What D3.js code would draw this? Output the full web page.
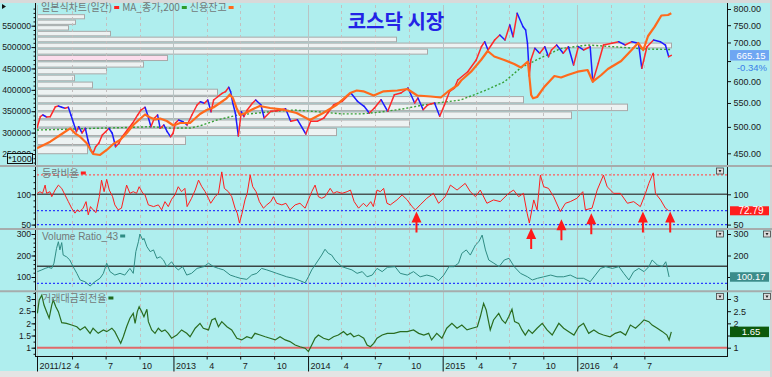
<!DOCTYPE html>
<html>
<head>
<meta charset="utf-8">
<script src="https://cdn.jsdelivr.net/npm/d3@7"></script>
<style>
  body { margin: 0; background: #afeeee; }
  svg { display: block; font-family: "Liberation Sans", Arial, sans-serif; }
  .kr { font-family: "Noto Sans CJK KR", sans-serif; }
</style>
</head>
<body>
<div id="chart"></div>
<script>
// ---- data ----
// KOSDAQ index (daily close, sampled)
var priceData = [
  ["2011-12-28",497.8],["2012-01-06",520.7],["2012-01-13",524.3],["2012-01-23",520.1],["2012-02-02",520.7],
  ["2012-02-16",541.9],["2012-02-24",543.4],["2012-03-04",540.6],["2012-03-13",538.5],["2012-03-22",540.6],
  ["2012-03-29",524.3],["2012-04-05",507.8],["2012-04-13",490.5],["2012-04-19",500.4],["2012-04-28",488.0],
  ["2012-05-07",497.2],["2012-05-14",474.5],["2012-05-21",456.0],["2012-05-28",450.0],["2012-06-04",462.0],
  ["2012-06-13",468.9],["2012-06-22",484.1],["2012-07-01",490.5],["2012-07-10",497.2],["2012-07-19",487.4],
  ["2012-07-28",462.0],["2012-08-06",468.3],["2012-08-15",480.8],["2012-08-29",493.8],["2012-09-12",507.2],
  ["2012-09-26",524.3],["2012-10-05",534.8],["2012-10-16",540.6],["2012-10-23",524.3],["2012-11-01",500.4],
  ["2012-11-10",517.4],["2012-11-19",524.3],["2012-11-26",497.2],["2012-12-06",503.8],["2012-12-15",490.5],
  ["2012-12-24",480.8],["2012-12-31",487.4],["2013-01-06",507.2],["2013-01-15",513.9],["2013-01-27",510.4],
  ["2013-02-07",503.8],["2013-02-20",524.3],["2013-03-06",545.6],["2013-03-15",552.8],["2013-03-26",549.3],
  ["2013-04-04",556.6],["2013-04-13",531.2],["2013-04-20",556.6],["2013-05-01",563.9],["2013-05-13",571.6],
  ["2013-05-22",575.3],["2013-05-31",585.5],["2013-06-05",575.3],["2013-06-11",549.3],["2013-06-18",527.8],
  ["2013-06-26",482.2],["2013-07-04",531.2],["2013-07-11",520.7],["2013-07-20",534.8],["2013-08-03",549.3],
  ["2013-08-12",556.6],["2013-08-26",546.2],["2013-09-04",518.0],["2013-09-22",532.1],["2013-10-10",533.3],
  ["2013-11-01",537.6],["2013-11-15",511.2],["2013-12-03",514.5],["2013-12-26",486.0],["2014-01-08",511.2],
  ["2014-01-26",511.2],["2014-02-13",518.0],["2014-03-12",546.2],["2014-04-04",553.7],["2014-04-27",572.3],
  ["2014-05-15",553.7],["2014-06-02",542.8],["2014-06-16",528.5],["2014-06-30",539.1],["2014-07-18",557.2],
  ["2014-08-05",532.1],["2014-08-23",568.5],["2014-09-10",572.3],["2014-09-29",583.8],["2014-10-17",550.0],
  ["2014-10-26",561.0],["2014-11-09",535.5],["2014-11-22",546.2],["2014-12-10",550.0],["2014-12-24",521.6],
  ["2015-01-06",546.2],["2015-01-20",576.2],["2015-02-02",583.8],["2015-02-11",602.8],["2015-03-10",623.0],
  ["2015-04-02",652.8],["2015-04-16",688.3],["2015-04-25",702.2],["2015-05-04",679.4],["2015-05-22",707.0],
  ["2015-06-05",721.2],["2015-06-19",707.0],["2015-07-02",750.6],["2015-07-11",716.3],["2015-07-22",786.4],
  ["2015-08-07",745.5],["2015-08-14",735.8],["2015-08-19",697.8],["2015-08-24",612.5],["2015-08-28",652.8],
  ["2015-09-08",684.0],["2015-09-21",670.5],["2015-10-05",688.3],["2015-10-15",661.4],["2015-10-23",679.4],
  ["2015-11-06",693.0],["2015-11-24",670.5],["2015-12-08",688.3],["2015-12-22",639.9],["2016-01-04",688.3],
  ["2016-01-18",679.4],["2016-02-05",688.3],["2016-02-12",598.7],["2016-02-27",644.2],["2016-03-12",693.0],
  ["2016-04-04",697.8],["2016-04-22",702.2],["2016-05-10",693.0],["2016-05-28",702.2],["2016-06-15",697.8],
  ["2016-06-24",631.6],["2016-07-08",688.3],["2016-07-26",707.0],["2016-08-13",702.2],["2016-08-27",693.0],
  ["2016-09-05",661.4],["2016-09-12",665.15]
];

// MA_종가,200
var maData = [
  ["2011-12-28",493.8],["2012-03-27",495.5],["2012-06-17",497.5],["2012-09-05",498.9],["2012-10-31",500.4],
  ["2012-12-23",497.5],["2013-02-16",497.8],["2013-03-15",502.2],["2013-04-29",513.9],["2013-06-25",524.3],
  ["2013-08-19",528.5],["2013-10-07",532.5],["2013-11-25",534.8],["2014-01-18",531.7],["2014-04-02",526.6],
  ["2014-05-27",526.6],["2014-07-20",530.8],["2014-09-10",536.5],["2014-11-10",545.6],["2014-12-27",551.1],
  ["2015-02-19",556.6],["2015-04-24",577.3],["2015-06-17",598.2],["2015-08-01",632.9],["2015-09-23",657.9],
  ["2015-11-16",682.9],["2016-01-29",693.0],["2016-04-10",688.3],["2016-06-04",684.0],["2016-07-12",681.8],
  ["2016-09-12",680.7]
];

// 신용잔고 (x1000)
var creditData = [
  ["2011-12-28",263400],["2012-02-02",278800],["2012-02-29",294500],["2012-03-27",310100],["2012-04-09",298400],
  ["2012-04-23",290500],["2012-05-11",275100],["2012-05-28",250000],["2012-06-16",247700],["2012-07-04",259400],
  ["2012-07-22",273400],["2012-08-09",282800],["2012-08-27",298400],["2012-09-14",317800],["2012-10-02",331900],
  ["2012-10-16",342400],["2012-10-30",335400],["2012-11-12",330700],["2012-11-26",333000],["2012-12-14",327200],
  ["2013-01-01",316700],["2013-01-19",322500],["2013-02-15",322500],["2013-03-14",343600],["2013-04-01",352900],
  ["2013-04-19",358800],["2013-05-07",369300],["2013-05-25",380300],["2013-06-03",389100],["2013-06-11",381000],
  ["2013-06-21",357600],["2013-06-30",341200],["2013-07-14",345200],["2013-08-05",355200],["2013-08-23",362300],
  ["2013-09-20",357600],["2013-10-26",353600],["2013-12-01",345900],["2014-01-06",329500],["2014-02-11",345900],
  ["2014-03-20",365300],["2014-04-25",392700],["2014-05-13",398500],["2014-05-31",396600],["2014-06-28",386800],
  ["2014-07-25",396600],["2014-08-31",398500],["2014-09-27",402000],["2014-10-24",386800],["2014-11-30",384500],
  ["2014-12-27",382100],["2015-01-14",395000],["2015-02-11",411400],["2015-02-20",421900],["2015-03-19",442500],
  ["2015-04-15",469800],["2015-05-03",490800],["2015-05-21",478000],["2015-06-17",469800],["2015-07-14",460500],
  ["2015-08-01",452300],["2015-08-20",465800],["2015-08-24",432400],["2015-08-29",388000],["2015-09-03",380300],
  ["2015-09-14",383300],["2015-10-04",407400],["2015-10-31",432400],["2015-11-18",428900],["2015-12-06",434700],
  ["2016-01-02",442500],["2016-01-29",446400],["2016-02-12",419100],["2016-03-06",434700],["2016-03-24",448800],
  ["2016-04-29",467500],["2016-05-26",492000],["2016-06-14",509600],["2016-06-28",493200],["2016-07-11",525900],
  ["2016-07-29",547700],["2016-08-16",573800],["2016-09-03",575000],["2016-09-12",579000]
];

// 매물대: traded volume per price band, lowest band first
var profileRange = [448, 784];
var volumeProfile = [50, 148, 299, 372, 534, 590, 486, 180, 55, 37, 69, 106, 130, 390, 634, 359, 73, 31, 38, 47];

// 등락비율
var adrData = [
  ["2011-12-29",101.6],["2012-01-05",104.3],["2012-01-12",101.6],["2012-01-19",115.2],["2012-01-23",101.6],
  ["2012-02-01",104.3],["2012-02-06",96.1],["2012-02-15",107.0],["2012-02-24",115.2],["2012-03-04",109.8],
  ["2012-03-13",98.9],["2012-03-22",87.9],["2012-03-31",77.1],["2012-04-09",68.9],["2012-04-15",74.3],
  ["2012-04-22",71.5],["2012-05-01",77.1],["2012-05-09",87.9],["2012-05-15",66.1],["2012-05-21",79.7],
  ["2012-05-28",74.3],["2012-06-05",69.8],["2012-06-14",96.1],["2012-06-20",123.4],["2012-06-27",104.3],
  ["2012-07-04",124.6],["2012-07-11",107.0],["2012-07-20",96.1],["2012-07-26",82.5],["2012-08-04",74.3],
  ["2012-08-13",77.1],["2012-08-22",101.6],["2012-08-27",115.2],["2012-09-05",101.6],["2012-09-14",104.3],
  ["2012-09-23",101.6],["2012-09-30",112.5],["2012-10-10",101.6],["2012-10-16",98.9],["2012-10-25",82.5],
  ["2012-11-08",79.7],["2012-11-21",82.5],["2012-11-30",74.3],["2012-12-09",87.9],["2012-12-18",79.7],
  ["2012-12-27",91.8],["2013-01-05",98.9],["2013-01-14",112.5],["2013-01-23",104.3],["2013-02-01",109.8],
  ["2013-02-07",79.7],["2013-02-19",93.4],["2013-03-01",107.0],["2013-03-10",123.4],["2013-03-19",112.5],
  ["2013-03-28",104.3],["2013-04-06",93.4],["2013-04-12",85.2],["2013-04-24",96.1],["2013-05-03",101.6],
  ["2013-05-12",137.0],["2013-05-19",109.8],["2013-05-30",104.3],["2013-06-08",96.1],["2013-06-17",77.1],
  ["2013-06-23",68.9],["2013-06-29",52.5],["2013-07-05",66.1],["2013-07-14",90.7],["2013-07-20",101.6],
  ["2013-07-28",131.6],["2013-08-04",112.5],["2013-08-13",104.3],["2013-08-22",87.9],["2013-09-02",77.1],
  ["2013-09-11",82.5],["2013-09-22",87.9],["2013-09-29",96.1],["2013-10-08",85.2],["2013-10-22",82.5],
  ["2013-11-02",85.2],["2013-11-13",74.3],["2013-11-27",82.5],["2013-12-10",85.2],["2013-12-24",77.1],
  ["2014-01-02",90.7],["2014-01-11",104.3],["2014-01-20",115.2],["2014-01-29",96.1],["2014-02-07",93.4],
  ["2014-02-16",96.1],["2014-03-02",109.8],["2014-03-11",101.6],["2014-03-20",104.3],["2014-04-03",101.6],
  ["2014-04-17",104.3],["2014-04-26",107.0],["2014-05-06",87.9],["2014-05-18",77.1],["2014-05-31",85.2],
  ["2014-06-09",79.7],["2014-06-20",87.9],["2014-06-27",79.7],["2014-07-07",107.0],["2014-07-16",104.3],
  ["2014-07-25",109.8],["2014-08-03",85.2],["2014-08-12",82.5],["2014-08-30",90.7],["2014-09-13",98.9],
  ["2014-09-27",90.7],["2014-10-10",79.7],["2014-10-19",74.3],["2014-11-01",82.5],["2014-11-19",93.4],
  ["2014-12-07",101.6],["2014-12-21",85.2],["2015-01-08",96.1],["2015-01-22",115.2],["2015-02-09",107.0],
  ["2015-03-03",118.0],["2015-03-17",104.3],["2015-03-31",96.1],["2015-04-13",107.0],["2015-05-01",85.2],
  ["2015-05-19",90.7],["2015-06-06",87.9],["2015-06-29",101.6],["2015-07-12",107.0],["2015-07-26",96.1],
  ["2015-08-08",101.6],["2015-08-18",68.9],["2015-08-24",52.5],["2015-09-05",90.7],["2015-09-14",74.3],
  ["2015-09-23",131.6],["2015-10-02",112.5],["2015-10-15",109.8],["2015-10-29",96.1],["2015-11-16",71.5],
  ["2015-11-30",85.2],["2015-12-13",87.9],["2015-12-31",93.4],["2016-01-16",104.3],["2016-01-23",74.3],
  ["2016-02-10",77.1],["2016-02-24",107.0],["2016-03-12",131.6],["2016-03-22",112.5],["2016-04-09",101.6],
  ["2016-04-27",101.6],["2016-05-16",85.2],["2016-06-02",87.9],["2016-06-20",79.7],["2016-07-04",101.6],
  ["2016-07-13",118.0],["2016-07-25",135.4],["2016-07-31",101.6],["2016-08-14",90.7],["2016-08-27",77.1],
  ["2016-09-05",72.79]
];
var adrLevels = {upper: 132, lower: [73, 50]};
var adrArrows = [["2014-10-22",71.5],["2015-08-29",44.3],["2015-11-19",59],["2016-02-08",68.9],["2016-06-27",71.5],["2016-09-09",71.5]];

// Volume Ratio_43
var vrData = [
  ["2011-12-29",125],["2012-01-10",133],["2012-01-19",140],["2012-01-28",145],["2012-02-06",140],["2012-02-12",164],
  ["2012-02-19",233],["2012-02-24",264],["2012-02-28",226],["2012-03-04",260],["2012-03-08",202],["2012-03-17",194],
  ["2012-03-26",179],["2012-04-04",148],["2012-04-14",117],["2012-04-23",86],["2012-05-06",78],["2012-05-20",58],
  ["2012-06-02",78],["2012-06-16",94],["2012-06-25",117],["2012-07-04",164],["2012-07-13",125],["2012-07-26",109],
  ["2012-08-09",117],["2012-08-22",109],["2012-09-05",140],["2012-09-14",117],["2012-09-21",218],["2012-09-28",264],
  ["2012-10-02",300],["2012-10-10",272],["2012-10-13",280],["2012-10-21",241],["2012-10-30",218],["2012-11-08",226],
  ["2012-11-17",187],["2012-11-26",194],["2012-12-05",179],["2012-12-14",148],["2012-12-27",171],["2013-01-05",148],
  ["2013-01-14",133],["2013-01-26",148],["2013-02-06",109],["2013-02-19",117],["2013-03-06",140],["2013-03-24",148],
  ["2013-04-06",164],["2013-04-20",148],["2013-05-03",140],["2013-05-17",133],["2013-06-04",109],["2013-06-18",101],
  ["2013-07-01",94],["2013-07-19",89],["2013-08-01",109],["2013-08-15",117],["2013-08-28",140],["2013-09-11",133],
  ["2013-09-25",125],["2013-10-08",117],["2013-10-22",109],["2013-11-04",101],["2013-11-22",94],["2013-12-10",83],
  ["2013-12-24",73],["2014-01-02",101],["2014-01-11",133],["2014-01-20",156],["2014-01-29",179],["2014-02-07",202],
  ["2014-02-16",229],["2014-02-25",210],["2014-03-06",202],["2014-03-15",179],["2014-03-24",164],["2014-04-03",148],
  ["2014-04-17",140],["2014-04-30",133],["2014-05-14",117],["2014-05-28",125],["2014-06-10",101],["2014-06-24",109],
  ["2014-07-07",140],["2014-07-21",125],["2014-08-04",145],["2014-08-25",148],["2014-09-08",117],["2014-09-27",109],
  ["2014-10-14",125],["2014-11-01",101],["2014-11-19",109],["2014-12-07",101],["2014-12-21",83],["2015-01-04",109],
  ["2015-01-18",148],["2015-01-31",148],["2015-02-13",164],["2015-02-22",210],["2015-03-06",226],["2015-03-17",202],
  ["2015-03-31",249],["2015-04-09",264],["2015-04-18",295],["2015-04-27",226],["2015-05-06",179],["2015-05-20",164],
  ["2015-06-03",148],["2015-06-17",179],["2015-06-30",187],["2015-07-14",148],["2015-07-31",117],["2015-08-19",101],
  ["2015-09-01",86],["2015-09-15",94],["2015-10-02",101],["2015-10-21",109],["2015-11-07",101],["2015-11-25",101],
  ["2015-12-13",109],["2015-12-31",94],["2016-01-18",94],["2016-02-05",78],["2016-02-19",109],["2016-03-04",140],
  ["2016-03-18",148],["2016-04-05",140],["2016-04-23",148],["2016-05-06",117],["2016-05-20",86],["2016-06-02",125],
  ["2016-06-16",140],["2016-06-30",125],["2016-07-13",148],["2016-07-22",179],["2016-08-05",156],["2016-08-19",148],
  ["2016-08-28",171],["2016-09-06",100.17]
];
var vrLevels = {mid: 150, low: 70};

// 거래대금회전율
var turnData = [
  ["2011-12-29",2.41],["2012-01-03",2.96],["2012-01-10",3.16],["2012-01-16",2.75],["2012-01-23",2.48],["2012-01-30",2.21],
  ["2012-02-06",2.75],["2012-02-10",2.96],["2012-02-17",2.68],["2012-02-24",2.48],["2012-03-04",2.03],["2012-03-17",2.00],
  ["2012-03-31",1.93],["2012-04-14",1.86],["2012-04-23",1.73],["2012-05-06",1.86],["2012-05-20",1.59],["2012-05-28",1.80],
  ["2012-06-11",1.59],["2012-06-25",1.73],["2012-07-04",1.66],["2012-07-18",1.80],["2012-07-26",1.66],["2012-08-04",1.39],
  ["2012-08-11",1.18],["2012-08-18",1.45],["2012-08-27",1.86],["2012-09-05",2.21],["2012-09-14",2.41],["2012-09-19",2.00],
  ["2012-09-25",2.48],["2012-09-30",2.68],["2012-10-07",2.48],["2012-10-13",2.27],["2012-10-21",2.58],["2012-10-25",2.07],
  ["2012-11-03",1.73],["2012-11-12",1.59],["2012-11-21",1.80],["2012-11-30",1.66],["2012-12-09",1.73],["2012-12-18",1.59],
  ["2012-12-27",1.39],["2013-01-10",1.52],["2013-01-23",1.73],["2013-02-06",1.59],["2013-02-15",1.45],["2013-03-01",1.80],
  ["2013-03-14",2.00],["2013-03-23",1.80],["2013-04-06",1.73],["2013-04-15",2.14],["2013-04-24",2.21],["2013-05-03",1.86],
  ["2013-05-12",2.07],["2013-05-26",1.86],["2013-06-08",1.73],["2013-06-22",1.39],["2013-07-05",1.32],["2013-07-19",1.45],
  ["2013-08-01",1.39],["2013-08-10",1.59],["2013-08-24",1.52],["2013-09-07",1.45],["2013-09-20",1.39],["2013-10-04",1.32],
  ["2013-10-17",1.45],["2013-10-31",1.32],["2013-11-13",1.25],["2013-11-27",1.11],["2013-12-10",1.04],["2013-12-24",0.98],
  ["2014-01-02",0.84],["2014-01-11",1.11],["2014-01-20",1.39],["2014-01-29",1.52],["2014-02-12",1.39],["2014-02-26",1.32],
  ["2014-03-11",1.45],["2014-03-24",1.52],["2014-04-07",1.66],["2014-04-17",1.52],["2014-04-26",1.59],["2014-05-05",1.45],
  ["2014-05-18",1.52],["2014-06-01",1.39],["2014-06-10",1.11],["2014-06-19",1.04],["2014-06-28",1.18],["2014-07-07",1.39],
  ["2014-07-21",1.52],["2014-08-04",1.59],["2014-08-22",1.59],["2014-09-08",1.66],["2014-09-27",1.66],["2014-10-14",1.73],
  ["2014-10-28",1.59],["2014-11-11",1.52],["2014-11-24",1.59],["2014-12-02",1.32],["2014-12-16",1.59],["2014-12-30",1.39],
  ["2015-01-12",1.80],["2015-01-26",2.00],["2015-02-09",1.80],["2015-02-22",1.93],["2015-03-08",1.73],["2015-03-22",1.80],
  ["2015-04-05",1.86],["2015-04-13",2.27],["2015-04-22",2.82],["2015-04-29",2.55],["2015-05-10",1.73],["2015-05-19",2.14],
  ["2015-06-02",2.41],["2015-06-11",2.14],["2015-06-20",2.00],["2015-06-29",2.27],["2015-07-08",2.58],["2015-07-15",2.07],
  ["2015-07-26",2.00],["2015-08-04",1.73],["2015-08-13",1.52],["2015-08-22",1.73],["2015-09-01",1.59],["2015-09-14",1.80],
  ["2015-09-28",2.00],["2015-10-11",1.73],["2015-10-25",1.52],["2015-11-12",2.00],["2015-11-25",1.80],["2015-12-09",1.66],
  ["2015-12-23",1.52],["2016-01-05",1.86],["2016-01-18",2.00],["2016-02-01",1.59],["2016-02-15",1.73],["2016-02-28",1.59],
  ["2016-03-12",1.52],["2016-03-30",1.45],["2016-04-13",1.59],["2016-04-27",1.66],["2016-05-11",1.52],["2016-05-24",1.93],
  ["2016-06-07",1.80],["2016-06-21",2.00],["2016-06-30",2.14],["2016-07-13",2.07],["2016-07-22",1.93],["2016-08-05",1.80],
  ["2016-08-19",1.66],["2016-08-31",1.52],["2016-09-06",1.32],["2016-09-12",1.65]
];
var turnLevel = 1;

var lastPrice = 665.15, lastChange = "-0.34%";

// ---- layout ----
var width = 772, height = 377;
var left = 37, right = 727;
var bg = "#afeeee";

var panels = {
  main: {top: 5, bottom: 165},
  adr:  {top: 167, bottom: 228},
  vol:  {top: 230, bottom: 290},
  turn: {top: 292, bottom: 356}
};

var parseDate = d3.timeParse("%Y-%m-%d");
function toPts(arr) { return arr.map(function(d) { return {t: parseDate(d[0]), v: d[1]}; }); }

var svg = d3.select("#chart").append("svg")
    .attr("width", width)
    .attr("height", height);

svg.append("rect").attr("width", width).attr("height", height).attr("fill", bg);
svg.append("rect").attr("width", width).attr("height", 3).attr("fill", "#d9d9d9");
svg.append("rect").attr("y", 371).attr("width", width).attr("height", 6).attr("fill", "#e4e4e4");
svg.append("rect").attr("x", 770).attr("width", 2).attr("height", height).attr("fill", "#d4d4d4");

var defs = svg.append("defs");
Object.keys(panels).forEach(function(k) {
  var p = panels[k];
  defs.append("clipPath").attr("id", "clip-" + k)
    .append("rect").attr("x", left).attr("y", p.top).attr("width", right - left).attr("height", p.bottom - p.top);
});

// scales
var x = d3.scaleTime()
    .domain([parseDate("2011-12-28"), parseDate("2017-02-10")])
    .range([left, right]);
var yPrice = d3.scaleLog().domain([450, 800]).range([153.3, 9]);
var yCredit = d3.scaleLinear().domain([250000, 550000]).range([154, 25.7]);
var yAdr = d3.scaleLinear().domain([50, 100]).range([224.6, 194.3]);
var yVol = d3.scaleLinear().domain([100, 300]).range([277, 234]);
var yTurn = d3.scaleLinear().domain([1, 3]).range([347.7, 299]);

// ---- volume profile bars (매물대) ----
var binStep = (profileRange[1] - profileRange[0]) / volumeProfile.length;
var xVol = d3.scaleLinear().domain([0, d3.max(volumeProfile)]).range([0, 634]);
svg.append("g").attr("clip-path", "url(#clip-main)")
  .selectAll("rect").data(volumeProfile).join("rect")
    .attr("x", left + 0.5)
    .attr("y", function(d, i) { return yPrice(profileRange[0] + (i + 1) * binStep) + 0.6; })
    .attr("height", function(d, i) {
      return yPrice(profileRange[0] + i * binStep) - yPrice(profileRange[0] + (i + 1) * binStep) - 1.3;
    })
    .attr("width", function(d) { return xVol(d); })
    .attr("fill", function(d, i) {
      var lo = profileRange[0] + i * binStep;
      return (lastPrice >= lo && lastPrice < lo + binStep) ? "#fcdcec" : "#edf2f2";
    })
    .attr("stroke", "#a8a8a8")
    .attr("stroke-width", 1);

// ---- vertical grid ----
var gridDates = d3.timeMonth.every(3).range(parseDate("2012-04-01"), parseDate("2016-08-01"));
Object.keys(panels).forEach(function(k) {
  var p = panels[k];
  svg.append("g").selectAll("line").data(gridDates).join("line")
    .attr("x1", function(d) { return Math.round(x(d)) + 0.5; })
    .attr("x2", function(d) { return Math.round(x(d)) + 0.5; })
    .attr("y1", p.top).attr("y2", p.bottom)
    .attr("stroke", function(d) { return d.getMonth() === 0 ? "#b9c4c4" : "#c4c0c0"; })
    .attr("stroke-dasharray", function(d) { return d.getMonth() === 0 ? null : "3,3"; });
  svg.append("line").attr("x1", left + 0.5).attr("x2", left + 0.5)
    .attr("y1", p.top).attr("y2", p.bottom).attr("stroke", "#b9c4c4");
});

// ---- reference lines in sub panels ----
function hline(y, color, w, dash) {
  svg.append("line").attr("x1", left).attr("x2", right).attr("y1", y).attr("y2", y)
    .attr("stroke", color).attr("stroke-width", w).attr("stroke-dasharray", dash || null);
}
hline(yAdr(adrLevels.upper), "#ff5a5a", 1.3, "2,2");
hline(yAdr(100), "#4c5656", 1.6);
adrLevels.lower.forEach(function(v) { hline(yAdr(v), "#2a3cff", 1.3, "2,2"); });
hline(yVol(vrLevels.mid), "#3c4444", 1.3);
hline(yVol(vrLevels.low), "#2a3cff", 1.3, "2,2");
hline(yTurn(turnLevel), "#e06a6a", 2);

// ---- main panel series ----
var ma = toPts(maData);
svg.append("path").datum(ma)
  .attr("clip-path", "url(#clip-main)")
  .attr("fill", "none").attr("stroke", "#36a036").attr("stroke-width", 1.4)
  .attr("stroke-dasharray", "2,2")
  .attr("d", d3.line().x(function(d) { return x(d.t); }).y(function(d) { return yPrice(d.v); }));

var price = toPts(priceData);
svg.append("g").attr("clip-path", "url(#clip-main)")
  .selectAll("line").data(d3.pairs(price)).join("line")
    .attr("x1", function(d) { return x(d[0].t); })
    .attr("y1", function(d) { return yPrice(d[0].v); })
    .attr("x2", function(d) { return x(d[1].t); })
    .attr("y2", function(d) { return yPrice(d[1].v); })
    .attr("stroke", function(d) { return d[1].v >= d[0].v ? "#ff2a2a" : "#1c1cff"; })
    .attr("stroke-width", 1.5)
    .attr("stroke-linecap", "round");

var credit = toPts(creditData);
svg.append("path").datum(credit)
  .attr("clip-path", "url(#clip-main)")
  .attr("fill", "none").attr("stroke", "#ff6a1c").attr("stroke-width", 2.2)
  .attr("stroke-linejoin", "round")
  .attr("d", d3.line().x(function(d) { return x(d.t); }).y(function(d) { return yCredit(d.v); }));

// ---- sub panel series ----
function series(data, yScale, clip, color, w) {
  svg.append("path").datum(toPts(data))
    .attr("clip-path", "url(#clip-" + clip + ")")
    .attr("fill", "none").attr("stroke", color).attr("stroke-width", w)
    .attr("d", d3.line().x(function(d) { return x(d.t); }).y(function(d) { return yScale(d.v); }));
}
series(adrData, yAdr, "adr", "#ff1e1e", 1);
series(vrData, yVol, "vol", "#2f8c84", 1);
series(turnData, yTurn, "turn", "#2a6c20", 1.2);

// ---- axes ----
function styleAxis(g, size) {
  g.select(".domain").remove();
  g.selectAll("line").attr("stroke", "#111");
  g.selectAll("text").attr("font-size", size).attr("fill", "#1a1a1a");
}
// main left (credit, x1000)
svg.append("g").attr("transform", "translate(35.5,0)")
  .call(d3.axisLeft(yCredit).tickValues(d3.range(230000, 600000, 10000)).tickSize(2).tickFormat(""))
  .call(styleAxis, 8.6);
svg.append("g").attr("transform", "translate(35.5,0)")
  .call(d3.axisLeft(yCredit).tickValues(d3.range(250000, 550001, 50000)).tickSize(4).tickPadding(0.5)
        .tickFormat(d3.format("d")))
  .call(styleAxis, 8.6);
// main right (index); the 650 label sits under the last-price box
svg.append("g").attr("transform", "translate(727.5,0)")
  .call(d3.axisRight(yPrice).tickValues([450, 500, 550, 600, 650, 700, 750, 800]).tickSize(3.5).tickPadding(2.5)
        .tickFormat(function(d) { return d === 650 ? "" : d3.format(".2f")(d); }))
  .call(styleAxis, 9);

// right labels hidden behind the last-value boxes are left blank
function subAxes(scale, majors, minors, fmt, hiddenRight) {
  svg.append("g").attr("transform", "translate(35.5,0)")
    .call(d3.axisLeft(scale).tickValues(minors).tickSize(2).tickFormat(""))
    .call(styleAxis, 8.6);
  svg.append("g").attr("transform", "translate(35.5,0)")
    .call(d3.axisLeft(scale).tickValues(majors).tickSize(4).tickPadding(0.5).tickFormat(fmt))
    .call(styleAxis, 8.6);
  svg.append("g").attr("transform", "translate(727.5,0)")
    .call(d3.axisRight(scale).tickValues(majors).tickSize(3.5).tickPadding(2.5)
          .tickFormat(function(d) { return d === hiddenRight ? "" : fmt(d); }))
    .call(styleAxis, 9);
}
subAxes(yAdr, [50, 100], d3.range(50, 150, 10), d3.format("d"));
subAxes(yVol, [100, 200, 300], d3.range(80, 320, 20), d3.format("d"), 100);
subAxes(yTurn, [1, 1.5, 2, 2.5, 3], d3.range(0.75, 3.3, 0.25), d3.format("~g"), 1.5);

// x axis
var startDate = parseDate("2011-12-28");
var xTicks = [startDate].concat(gridDates);
var gx = svg.append("g").attr("transform", "translate(0,356.5)")
  .call(d3.axisBottom(x).tickValues(xTicks).tickSize(3)
        .tickFormat(function(d) {
          if (+d === +startDate) return "2011/12";
          return d.getMonth() === 0 ? d.getFullYear() : d.getMonth() + 1;
        }));
gx.select(".domain").remove();
gx.selectAll("line").attr("stroke", "#111")
  .attr("y2", function(d) { return (+d === +startDate || d.getMonth() === 0) ? 15 : 3; });
gx.selectAll("text").attr("font-size", 9).attr("fill", "#1a1a1a")
  .attr("text-anchor", "start").attr("x", 2).attr("y", 6).attr("dy", "0.71em");

// frame lines
svg.append("line").attr("x1", 35.5).attr("x2", 35.5).attr("y1", 3).attr("y2", 357).attr("stroke", "#111");
svg.append("line").attr("x1", 727.5).attr("x2", 727.5).attr("y1", 3).attr("y2", 357).attr("stroke", "#111");
svg.append("line").attr("x1", 35).attr("x2", 728).attr("y1", 356.5).attr("y2", 356.5).attr("stroke", "#111");
[166, 229, 291.2].forEach(function(y) {
  svg.append("line").attr("x1", 0).attr("x2", width).attr("y1", y).attr("y2", y)
    .attr("stroke", "#a6acac").attr("stroke-width", 2);
});

// ---- annotations ----
svg.append("path").attr("d", "M2,4L6,6.5L2,9Z").attr("fill", "#111");

svg.append("text").attr("class", "kr")
  .attr("x", 396).attr("y", 29).attr("text-anchor", "middle")
  .attr("font-size", 20).attr("font-weight", "bold").attr("fill", "#2323e6")
  .text("코스닥 시장");

function legend(x0, yBase, items, size) {
  var cx = x0;
  items.forEach(function(it) {
    var t = svg.append("text").attr("x", cx).attr("y", yBase)
      .attr("class", it.kr ? "kr" : null)
      .attr("font-size", size).attr("fill", "#727878").text(it.label);
    cx += t.node().getComputedTextLength() + 2;
    svg.append("rect").attr("x", cx).attr("y", yBase - 5).attr("width", 5).attr("height", 3).attr("fill", it.color);
    cx += 8;
  });
}
legend(41, 11, [
  {label: "일본식차트(일간)", color: "#ff2020", kr: true},
  {label: "MA_종가,200", color: "#2c9c2c", kr: true},
  {label: "신용잔고", color: "#ff6a1c", kr: true}
], 10);
legend(42, 176.5, [{label: "등락비율", color: "#ff2020", kr: true}], 10);
legend(42, 239.5, [{label: "Volume Ratio_43", color: "#2f8c84"}], 10);
legend(42, 301.5, [{label: "거래대금회전율", color: "#1f6a1f", kr: true}], 10);

// *1000 box, drawn over the lowest left label as in the source chart
svg.append("rect").attr("x", 7.5).attr("y", 153.5).attr("width", 25).attr("height", 10)
  .attr("fill", bg).attr("stroke", "#111");
svg.append("text").attr("x", 20).attr("y", 161.8).attr("text-anchor", "middle")
  .attr("font-size", 9).attr("fill", "#111").text("*1000");

// arrows on 등락비율
svg.append("g").selectAll("path").data(adrArrows).join("path")
  .attr("d", function(d) {
    var tx = x(parseDate(d[0])), ty = yAdr(d[1]);
    return "M" + tx + "," + ty + "L" + (tx + 5) + "," + (ty + 11) + "L" + (tx + 1) + "," + (ty + 11) +
           "L" + (tx + 1) + "," + (ty + 21) + "L" + (tx - 1) + "," + (ty + 21) + "L" + (tx - 1) + "," + (ty + 11) +
           "L" + (tx - 5) + "," + (ty + 11) + "Z";
  })
  .attr("fill", "#ff1a1a");

// last value boxes
function valueBox(yc, h, fill, label, size) {
  svg.append("rect").attr("x", 730).attr("y", yc - h / 2).attr("width", 39).attr("height", h).attr("fill", fill);
  svg.append("text").attr("x", 751).attr("y", yc + size * 0.36).attr("text-anchor", "middle")
    .attr("font-size", size).attr("fill", "#fff").text(label);
}
valueBox(yPrice(lastPrice), 10.5, "#6ea6f2", d3.format(".2f")(lastPrice), 9.5);
svg.append("text").attr("x", 752).attr("y", 70.5).attr("text-anchor", "middle")
  .attr("font-size", 9.5).attr("fill", "#3a7ee8").text(lastChange);
valueBox(yAdr(adrData[adrData.length - 1][1]), 9, "#ff1e1e", "72.79", 10);
valueBox(yVol(vrData[vrData.length - 1][1]), 9.5, "#3a8c8a", "100.17", 9.5);
valueBox(yTurn(turnData[turnData.length - 1][1]), 10.5, "#0c5a0c", "1.65", 9.5);

// small panel buttons
[[716.5, 168], [716.5, 231], [716.5, 293.5], [763.5, 231], [763.5, 293.5]].forEach(function(b) {
  svg.append("rect").attr("x", b[0]).attr("y", b[1]).attr("width", 7).attr("height", 6)
    .attr("fill", "#dcdcdc").attr("stroke", "#444").attr("stroke-width", 0.8);
  svg.append("path").attr("d", "M" + (b[0] + 2) + "," + (b[1] + 2) + "h3l-1.5,2.5z").attr("fill", "#222");
});
</script>
</body>
</html>
